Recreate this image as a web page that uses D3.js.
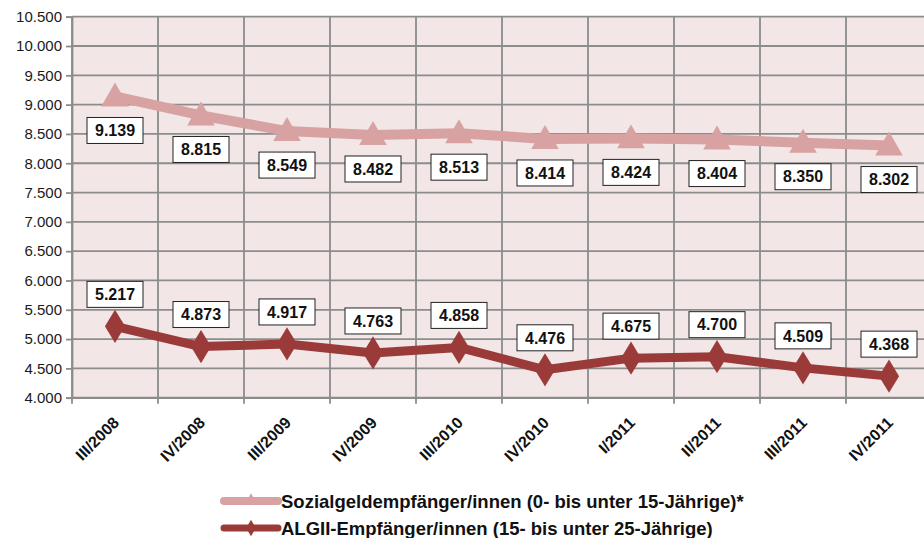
<!DOCTYPE html>
<html>
<head>
<meta charset="utf-8">
<script src="https://cdn.jsdelivr.net/npm/d3@7"></script>
<style>
  body { margin: 0; background: #fff; }
  svg { display: block; font-family: "Liberation Sans", Arial, sans-serif; }
</style>
</head>
<body>
<div id="chart"></div>
<script>
// quarters and values
const quarters = ["III/2008","IV/2008","III/2009","IV/2009","III/2010","IV/2010","I/2011","II/2011","III/2011","IV/2011"];
const sozialgeld = [9139, 8815, 8549, 8482, 8513, 8414, 8424, 8404, 8350, 8302];
const algII = [5217, 4873, 4917, 4763, 4858, 4476, 4675, 4700, 4509, 4368];
const yTicks = [4000,4500,5000,5500,6000,6500,7000,7500,8000,8500,9000,9500,10000,10500];
const seriesNames = ["Sozialgeldempfänger/innen (0- bis unter 15-Jährige)*", "ALGII-Empfänger/innen (15- bis unter 25-Jährige)"];

const W = 924, H = 538;
const margin = {top: 16.7, left: 72};
const w = 860, h = 381;

// German thousands separator: 10.500
const fmtNum = v => {
  const s = String(v);
  return s.slice(0, s.length - 3) + "." + s.slice(-3);
};

const svg = d3.select("#chart").append("svg")
  .attr("width", W).attr("height", H);

const g = svg.append("g").attr("transform", `translate(${margin.left},${margin.top})`);

const x = d3.scaleBand().domain(quarters).range([0, w]);
const y = d3.scaleLinear().domain([4000, 10500]).range([h, 0]);

// plot background
g.append("rect").attr("width", w).attr("height", h).attr("fill", "#f2e6e6");

// horizontal grid
g.append("g").selectAll("line").data(yTicks).enter().append("line")
  .attr("x1", 0).attr("x2", w)
  .attr("y1", d => y(d)).attr("y2", d => y(d))
  .attr("stroke", "#8c8c8c").attr("stroke-width", 1.8);

// vertical grid at category boundaries
const bounds = quarters.map(q => x(q)).concat([w]);
g.append("g").selectAll("line").data(bounds).enter().append("line")
  .attr("x1", d => d).attr("x2", d => d)
  .attr("y1", 0).attr("y2", h + 6)
  .attr("stroke", "#8c8c8c").attr("stroke-width", 1.8);

// y axis
const yAxis = g.append("g")
  .call(d3.axisLeft(y).tickValues(yTicks).tickFormat(fmtNum).tickSize(6).tickPadding(4));
yAxis.select(".domain").attr("stroke", "#8c8c8c").attr("stroke-width", 1.8);
yAxis.selectAll(".tick line").attr("stroke", "#8c8c8c").attr("stroke-width", 1.8);
yAxis.selectAll("text").attr("font-size", 15).attr("fill", "#1a1a1a")
  .attr("font-family", "Liberation Sans, Arial, sans-serif");

// x axis labels
const xAxis = g.append("g").attr("transform", `translate(0,${h})`)
  .call(d3.axisBottom(x).tickSize(0).tickPadding(0));
xAxis.select(".domain").attr("stroke", "#8c8c8c").attr("stroke-width", 1.8);
xAxis.selectAll("text")
  .attr("font-size", 16).attr("font-weight", "bold").attr("fill", "#111")
  .attr("font-family", "Liberation Sans, Arial, sans-serif")
  .attr("text-anchor", "end")
  .attr("dy", 0)
  .attr("transform", "translate(5,26) rotate(-45)");

const cx = d => x(d) + x.bandwidth() / 2;
const line = d3.line().x(d => cx(d.q)).y(d => y(d.v));

const s1 = quarters.map((q, i) => ({q, v: sozialgeld[i]}));
const s2 = quarters.map((q, i) => ({q, v: algII[i]}));

const c1 = "#d8a2a2", c2 = "#9b3b39";
const tri = d3.symbol().type(d3.symbolTriangle).size(330);
const dia = d3.symbol().type(d3.symbolDiamond).size(320);

// series 1
g.append("path").datum(s1).attr("d", line).attr("fill", "none")
  .attr("stroke", c1).attr("stroke-width", 10).attr("stroke-linejoin", "round");
g.append("g").selectAll("path").data(s1).enter().append("path")
  .attr("d", tri).attr("fill", c1)
  .attr("transform", d => `translate(${cx(d.q)},${y(d.v) + 2})`);

// series 2
g.append("path").datum(s2).attr("d", line).attr("fill", "none")
  .attr("stroke", c2).attr("stroke-width", 9).attr("stroke-linejoin", "round");
g.append("g").selectAll("path").data(s2).enter().append("path")
  .attr("d", dia).attr("fill", c2)
  .attr("transform", d => `translate(${cx(d.q)},${y(d.v)}) scale(1.05,1)`);

// data labels
function labels(data, offset) {
  const lg = g.append("g").selectAll("g").data(data).enter().append("g")
    .attr("transform", d => `translate(${cx(d.q)},${y(d.v) + offset})`);
  lg.append("rect").attr("x", -28).attr("y", -13).attr("width", 56).attr("height", 26)
    .attr("fill", "#fff").attr("stroke", "#222").attr("stroke-width", 1);
  lg.append("text").text(d => fmtNum(d.v))
    .attr("text-anchor", "middle").attr("dy", "0.36em")
    .attr("font-size", 16).attr("font-weight", "bold").attr("fill", "#111");
}
labels(s1, 34);
labels(s2, -32);

// legend
const legend = svg.append("g").attr("transform", "translate(224,501)");
[[c1, 8], [c2, 7]].forEach(([col, sw], i) => {
  const lg = legend.append("g").attr("transform", `translate(0,${i * 27})`);
  lg.append("line").attr("x1", 0).attr("x2", 54).attr("stroke", col)
    .attr("stroke-width", sw).attr("stroke-linecap", "round");
  lg.append("path").attr("d", d3.symbol().type(i === 0 ? d3.symbolTriangle : d3.symbolDiamond).size(80))
    .attr("fill", col).attr("transform", "translate(27,0)");
  lg.append("text").attr("x", 57).attr("dy", "0.36em").text(seriesNames[i])
    .attr("font-size", 18.5).attr("font-weight", "bold").attr("fill", "#111");
});
</script>
</body>
</html>
